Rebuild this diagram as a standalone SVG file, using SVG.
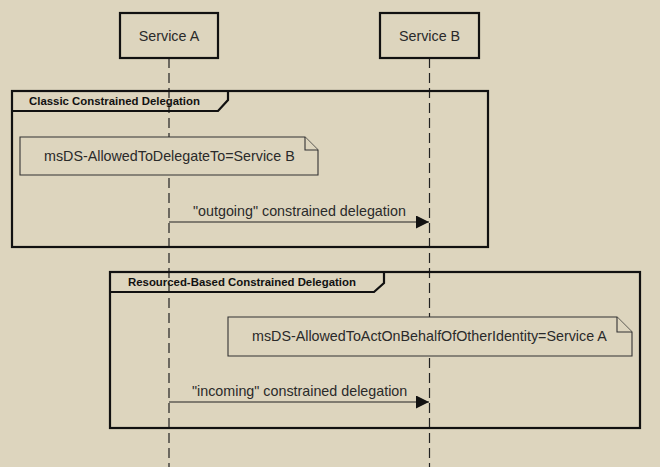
<svg xmlns="http://www.w3.org/2000/svg" width="660" height="467" viewBox="0 0 660 467">
<defs>
<style>
.bg{fill:#DDD5BE}
.actor{fill:#DDD5BE;stroke:#111;stroke-width:2.2}
.life{stroke:#222;stroke-width:1.2;stroke-dasharray:10,5;fill:none}
.frame{fill:none;stroke:#111;stroke-width:2.2}
.note{fill:#DDD5BE;stroke:#333;stroke-width:1.1}
.msg{stroke:#222;stroke-width:1.1;fill:none}
.t{font-family:"Liberation Sans",Arial,sans-serif;font-size:14.3px;fill:#2a2a2a}
.ft{font-family:"Liberation Sans",Arial,sans-serif;font-size:11.4px;font-weight:bold;fill:#111}
</style>
<marker id="ah" markerWidth="13" markerHeight="13" refX="13" refY="6.5" orient="auto" markerUnits="userSpaceOnUse">
<path d="M0,0 L13,6.5 L0,13 Z" fill="#111"/>
</marker>
</defs>
<rect class="bg" x="0" y="0" width="660" height="467"/>
<g id="lifelines">
<line class="life" x1="169" y1="58" x2="169" y2="467"/>
<line class="life" x1="429.5" y1="58" x2="429.5" y2="467"/>
</g>
<g id="actor-service-a">
<rect class="actor" x="120" y="13" width="98" height="45"/>
<text class="t" x="169" y="41" text-anchor="middle">Service A</text>
</g>
<g id="actor-service-b">
<rect class="actor" x="380" y="13" width="99" height="45"/>
<text class="t" x="429.5" y="41" text-anchor="middle">Service B</text>
</g>
<g id="frame-classic">
<rect class="frame" x="12" y="91" width="476" height="156"/>
<path class="frame" d="M12,111 L218,111 L228,100 L228,91"/>
<text class="ft" x="29" y="105">Classic Constrained Delegation</text>
</g>
<g id="note-classic">
<path class="note" d="M20,137 L305,137 L318,150 L318,175 L20,175 Z"/>
<path class="note" d="M305,137 L305,150 L318,150"/>
<text class="t" x="44" y="161">msDS-AllowedToDelegateTo=Service B</text>
</g>
<g id="frame-rbcd">
<rect class="frame" x="110" y="272" width="530" height="156"/>
<path class="frame" d="M110,292 L374,292 L384,283 L384,272"/>
<text class="ft" x="128" y="286">Resourced-Based Constrained Delegation</text>
</g>
<g id="note-rbcd">
<path class="note" d="M228,317 L617,317 L632,332 L632,356 L228,356 Z"/>
<path class="note" d="M617,317 L617,332 L632,332"/>
<text class="t" x="252" y="341">msDS-AllowedToActOnBehalfOfOtherIdentity=Service A</text>
</g>
<g id="connectors">
<line class="msg" x1="169" y1="222" x2="429" y2="222" marker-end="url(#ah)"/>
<text class="t" x="193" y="216">"outgoing" constrained delegation</text>
<line class="msg" x1="169" y1="402" x2="429" y2="402" marker-end="url(#ah)"/>
<text class="t" x="192" y="396">"incoming" constrained delegation</text>
</g>
</svg>
